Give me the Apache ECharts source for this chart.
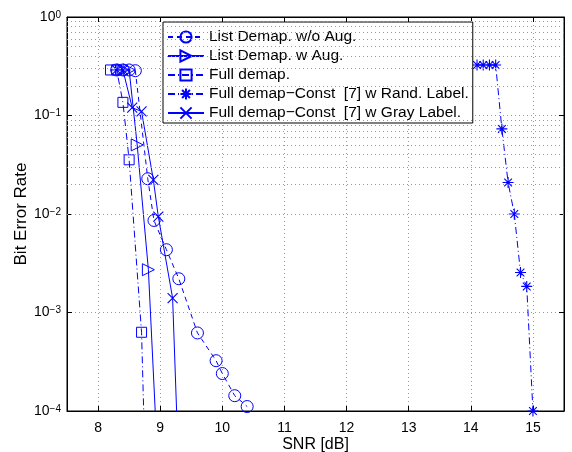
<!DOCTYPE html>
<html><head><meta charset="utf-8">
<script src="https://cdn.jsdelivr.net/npm/echarts@6/dist/echarts.min.js"></script>
<style>html,body{margin:0;padding:0;background:#fff}#c{width:572px;height:452px}</style>
</head><body><div id="c"></div>
<script>
// ---- data ----
const xTicks = [8, 9, 10, 11, 12, 13, 14, 15];
const yMinorGrid = [2e-4,3e-4,4e-4,5e-4,6e-4,7e-4,8e-4,9e-4,
                    2e-3,3e-3,4e-3,5e-3,6e-3,7e-3,8e-3,9e-3,
                    2e-2,3e-2,4e-2,5e-2,6e-2,7e-2,8e-2,9e-2,
                    0.2,0.3,0.4,0.5,0.6,0.7,0.8,0.9];

const seriesNames = [
  'List Demap. w/o Aug.',
  'List Demap. w Aug.',
  'Full demap.',
  'Full demap\u2212Const  [7] w Rand. Label.',
  'Full demap\u2212Const  [7] w Gray Label.'
];

const snrListNoAug = [8.3, 8.4, 8.5, 8.6, 8.8, 8.9, 9.1, 9.3, 9.6, 9.9, 10.0, 10.2, 10.4];
const berListNoAug = [0.29, 0.29, 0.29, 0.285, 0.0228, 0.0086, 0.00434, 0.0022, 6.2e-4, 3.24e-4, 2.4e-4, 1.43e-4, 1.11e-4];

const snrListAug = [8.4, 8.5, 8.63, 8.81, 9.0];
const berListAug = [0.29, 0.29, 0.0503, 0.00272, 9e-6];

const snrFull = [8.2, 8.3, 8.4, 8.5, 8.7, 8.8];
const berFull = [0.29, 0.29, 0.136, 0.0355, 6.3e-4, 3e-6];

const snrRand = [14.1, 14.2, 14.3, 14.4, 14.5, 14.6, 14.7, 14.8, 14.9, 15.0];
const berRand = [0.326, 0.326, 0.326, 0.326, 0.0731, 0.0209, 0.0100, 0.00255, 0.00184, 1.0e-4];

const snrGray = [8.3, 8.4, 8.55, 8.7, 8.89, 8.97, 9.2, 9.3];
const berGray = [0.29, 0.29, 0.12, 0.11, 0.0222, 0.0094, 0.0014, 2.3e-5];

// ---- chart ----
const BLUE = '#0000ff';
const FONT = 'Liberation Sans, Arial, sans-serif';
const zip = (xs, ys) => xs.map((x, i) => [x, ys[i]]);
const hollow = { color: 'rgba(0,0,0,0)', borderColor: BLUE, borderWidth: 1 };
const strokeSym = { color: 'rgba(0,0,0,0)', borderColor: BLUE, borderWidth: 1.1 };

function supLabel(v) {
  const e = Math.round(Math.log10(v));
  return '{b|10}{s|' + (e === 0 ? '0' : '\u2212' + (-e)) + '}';
}

const chart = echarts.init(document.getElementById('c'), null, { renderer: 'canvas' });
chart.setOption({
  animation: false,
  backgroundColor: '#fff',
  textStyle: { fontFamily: FONT },
  grid: { left: 67, right: 8, top: 17, bottom: 41, containLabel: false, outerBoundsMode: 'none',
          show: true, borderColor: '#000', borderWidth: 1, backgroundColor: 'transparent' },
  legend: {
    orient: 'vertical', left: 163, top: 22,
    backgroundColor: '#fff', borderColor: '#000', borderWidth: 1,
    padding: [6, 4, 1, 4], itemWidth: 36, itemHeight: 14, itemGap: 1,
    textStyle: { fontSize: 15.5, lineHeight: 18, color: '#000', fontFamily: FONT },
    data: seriesNames
  },
  xAxis: [{
    type: 'value', min: 7.5, max: 15.5,
    name: 'SNR [dB]', nameLocation: 'middle', nameGap: 26, nameMoveOverlap: false,
    nameTextStyle: { fontSize: 16, color: '#000', fontFamily: FONT },
    axisLine: { show: true, lineStyle: { color: '#000', width: 1 } },
    axisTick: { show: true, inside: true, length: 5, customValues: xTicks, lineStyle: { color: '#000' } },
    axisLabel: { customValues: xTicks, fontSize: 14, color: '#000', margin: 10, fontFamily: FONT },
    splitLine: { show: true, lineStyle: { color: '#999', type: [1, 3], width: 1 } }
  }, {
    type: 'value', min: 7.5, max: 15.5, position: 'top',
    axisLine: { show: true, lineStyle: { color: '#000' } },
    axisTick: { show: true, inside: true, length: 5, customValues: xTicks, lineStyle: { color: '#000' } },
    axisLabel: { show: false }, splitLine: { show: false }
  }],
  yAxis: [{
    type: 'log', logBase: 10, min: 1e-4, max: 1,
    name: 'Bit Error Rate', nameLocation: 'middle', nameGap: 37, nameMoveOverlap: false,
    nameTextStyle: { fontSize: 17, color: '#000', fontFamily: FONT },
    axisLine: { show: true, lineStyle: { color: '#000', width: 1 } },
    axisTick: { show: true, inside: true, length: 5, lineStyle: { color: '#000' } },
    axisLabel: {
      formatter: supLabel, margin: 6,
      rich: {
        b: { fontSize: 14, color: '#000', fontFamily: FONT, lineHeight: 14, verticalAlign: 'bottom' },
        s: { fontSize: 10, color: '#000', fontFamily: FONT, lineHeight: 10, verticalAlign: 'top', padding: [0, 0, 9, 0] }
      }
    },
    splitLine: { show: true, lineStyle: { color: '#999', type: [1, 3], width: 1 } }
  }, {
    type: 'log', logBase: 10, min: 1e-4, max: 1, position: 'right',
    axisLine: { show: true, lineStyle: { color: '#000' } },
    axisTick: { show: true, inside: true, length: 5, lineStyle: { color: '#000' } },
    axisLabel: { show: false }, splitLine: { show: false }
  }],
  series: [
    {
      name: seriesNames[0], type: 'line', data: zip(snrListNoAug, berListNoAug),
      symbol: 'circle', symbolSize: 12, itemStyle: hollow,
      lineStyle: { color: BLUE, width: 1, type: [5, 4] }, z: 3,
      markLine: {
        silent: true, symbol: ['none', 'none'], label: { show: false },
        lineStyle: { color: '#999', type: [1, 3], width: 1 },
        data: yMinorGrid.map(v => ({ yAxis: v }))
      }
    },
    {
      name: seriesNames[1], type: 'line', data: zip(snrListAug, berListAug),
      symbol: 'triangle', symbolRotate: -90, symbolSize: 12, itemStyle: hollow,
      lineStyle: { color: BLUE, width: 1, type: 'solid' }, z: 3
    },
    {
      name: seriesNames[2], type: 'line', data: zip(snrFull, berFull),
      symbol: 'rect', symbolSize: 10, itemStyle: hollow,
      lineStyle: { color: BLUE, width: 1, type: [7, 3, 1, 3] }, z: 3
    },
    {
      name: seriesNames[3], type: 'line', data: zip(snrRand, berRand),
      symbol: 'path://M0,5L10,5M5,0L5,10M1.5,1.5L8.5,8.5M1.5,8.5L8.5,1.5', symbolSize: 11, itemStyle: strokeSym,
      lineStyle: { color: BLUE, width: 1, type: [7, 3, 1, 3] }, z: 3
    },
    {
      name: seriesNames[4], type: 'line', data: zip(snrGray, berGray),
      symbol: 'path://M0,0L10,10M0,10L10,0', symbolSize: 10, itemStyle: strokeSym,
      lineStyle: { color: BLUE, width: 1, type: 'solid' }, z: 3
    }
  ]
});
</script></body></html>
